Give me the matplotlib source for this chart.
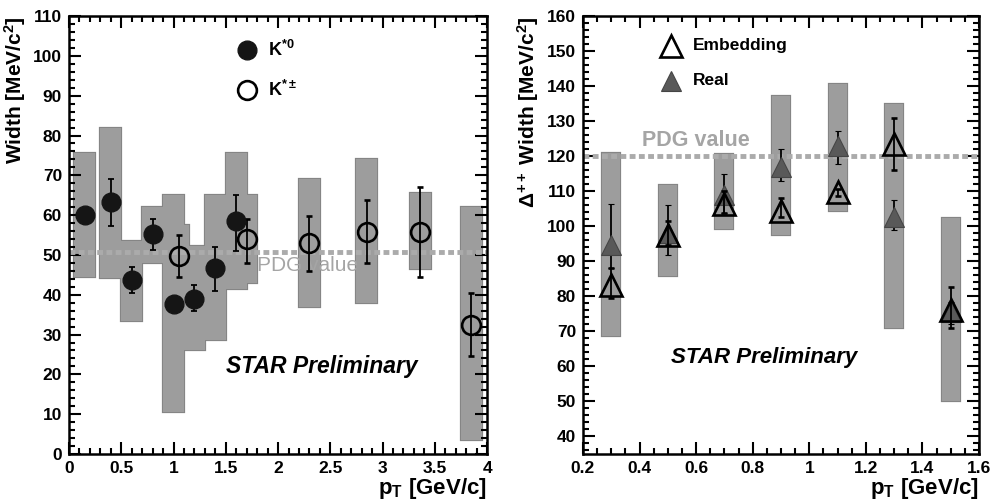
import numpy as np
import matplotlib
matplotlib.use("Agg")
import matplotlib.pyplot as plt
from matplotlib.ticker import MultipleLocator, FormatStrFormatter

plt.rcParams['font.family'] = ['Liberation Sans', 'DejaVu Sans']
plt.rcParams['font.weight'] = 'bold'
plt.rcParams['mathtext.fontset'] = 'custom'
plt.rcParams['mathtext.rm'] = 'Liberation Sans:bold'
plt.rcParams['mathtext.bf'] = 'Liberation Sans:bold'
plt.rcParams['mathtext.it'] = 'Liberation Sans:bold:italic'

# ---- left panel: K* widths ----
k0_pt = [0.15, 0.40, 0.60, 0.80, 1.00, 1.20, 1.40, 1.60]
k0_w = [60.0, 63.2, 43.7, 55.3, 37.6, 39.0, 46.6, 58.5]
k0_err_lo = [0.0, 6.0, 3.2, 4.0, 0.0, 3.0, 5.6, 7.5]
k0_err_hi = [0.0, 5.8, 3.3, 3.7, 0.0, 3.5, 5.4, 6.5]
k0_sys_lo = [44.5, 44.2, 33.5, 48.0, 10.5, 26.0, 28.7, 41.5]
k0_sys_hi = [75.5, 82.0, 53.5, 62.0, 65.0, 52.3, 65.0, 75.5]

kc_pt = [1.05, 1.70, 2.30, 2.85, 3.36, 3.85]
kc_w = [49.8, 54.0, 53.0, 55.8, 55.8, 32.5]
kc_err_lo = [5.3, 6.0, 7.0, 7.8, 11.3, 8.0]
kc_err_hi = [5.2, 5.0, 6.8, 8.0, 11.2, 8.0]
kc_sys_lo = [42.0, 43.0, 37.0, 38.0, 46.5, 3.5]
kc_sys_hi = [57.5, 65.0, 69.0, 74.0, 65.5, 62.0]

k_pdg = 50.8

# ---- right panel: Delta++ widths ----
d_pt = [0.3, 0.5, 0.7, 0.9, 1.1, 1.3, 1.5]
emb_w = [83.2, 97.4, 106.5, 104.5, 109.7, 123.6, 76.0]
emb_err_lo = [3.7, 2.8, 2.8, 1.9, 1.0, 7.6, 5.0]
emb_err_hi = [5.0, 4.0, 3.5, 3.5, 1.0, 7.4, 6.6]
real_w = [94.6, 98.0, 108.8, 116.8, 123.0, 102.6, 75.5]
real_err_lo = [6.6, 6.3, 5.1, 3.8, 5.1, 3.7, 3.5]
real_err_hi = [11.9, 8.0, 6.2, 5.3, 4.3, 4.8, 3.0]
d_sys_lo = [68.7, 85.8, 99.1, 97.6, 104.5, 71.0, 50.2]
d_sys_hi = [120.8, 111.9, 120.7, 137.2, 140.6, 135.0, 102.3]

d_pdg = 120.0

bar_face = '#9d9d9d'
bar_edge = '#858585'
pdg_col = '#ababab'


def style_axes(ax, xmaj, xmin, ymaj, ymin):
    ax.xaxis.set_major_locator(MultipleLocator(xmaj))
    ax.xaxis.set_minor_locator(MultipleLocator(xmin))
    ax.yaxis.set_major_locator(MultipleLocator(ymaj))
    ax.yaxis.set_minor_locator(MultipleLocator(ymin))
    ax.xaxis.set_major_formatter(FormatStrFormatter('%g'))
    ax.yaxis.set_major_formatter(FormatStrFormatter('%g'))
    ax.tick_params(which='both', direction='in', top=True, right=True,
                   labelsize=12.5, width=1.5)
    ax.tick_params(which='major', length=8.5, pad=5)
    ax.tick_params(which='minor', length=4.5)
    for s in ax.spines.values():
        s.set_linewidth(1.8)


def sys_boxes(ax, x, lo, hi, w):
    lo = np.array(lo)
    hi = np.array(hi)
    # outline underneath, fill on top, so overlaps merge into one shape
    ax.bar(x, hi - lo, bottom=lo, width=w, color=bar_face,
           edgecolor=bar_edge, linewidth=1.6, zorder=1)
    ax.bar(x, hi - lo, bottom=lo, width=w, color=bar_face,
           edgecolor='none', linewidth=0, zorder=1.1)


fig = plt.figure(figsize=(9.92, 5.03), dpi=100)
ax1 = fig.add_axes([0.0696, 0.0975, 0.4214, 0.8705])
ax2 = fig.add_axes([0.5877, 0.0975, 0.3992, 0.8705])

# left
sys_boxes(ax1, k0_pt + kc_pt, k0_sys_lo + kc_sys_lo, k0_sys_hi + kc_sys_hi, 0.2)
ax1.axhline(k_pdg, color=pdg_col, lw=3.5, ls=(0, (1.2, 0.7)), zorder=2)
ax1.text(1.8, k_pdg - 1.0, 'PDG value', color='#a5a5a5', fontsize=15,
         fontweight='normal', ha='left', va='top', zorder=2)
ax1.errorbar(k0_pt, k0_w, yerr=[k0_err_lo, k0_err_hi], fmt='o', ms=13.5,
             mfc='#151515', mec='#151515', ecolor='black', elinewidth=1.3,
             capsize=2.5, capthick=1.3, zorder=4)
ax1.errorbar(kc_pt, kc_w, yerr=[kc_err_lo, kc_err_hi], fmt='o', ms=13.5,
             mfc='none', mec='black', mew=1.9, ecolor='black', elinewidth=1.3,
             capsize=2.5, capthick=1.3, zorder=4)
ax1.plot([1.7], [101.5], 'o', ms=13.5, mfc='#151515', mec='#151515')
ax1.plot([1.7], [91.5], 'o', ms=13.5, mfc='none', mec='black', mew=1.9)
ax1.text(1.9, 101.5, r'K$^{*0}$', fontsize=13, va='center')
ax1.text(1.9, 91.5, r'K$^{*\pm}$', fontsize=13, va='center')
ax1.text(1.5, 22, 'STAR Preliminary', fontsize=16.5, style='italic',
         fontweight='bold', va='center')
ax1.set_xlim(0, 4)
ax1.set_ylim(0, 110)
style_axes(ax1, 0.5, 0.1, 10, 2)
ax1.set_ylabel(r'Width [MeV/c$^2$]', fontsize=15, fontweight='bold',
               loc='top', labelpad=4)
ax1.set_xlabel(r'p$_\mathregular{T}$ [GeV/c]', fontsize=16,
               fontweight='bold', loc='right', labelpad=0)

# right
sys_boxes(ax2, d_pt, d_sys_lo, d_sys_hi, 0.064)
ax2.axhline(d_pdg, color=pdg_col, lw=3.5, ls=(0, (1.2, 0.7)), zorder=2)
ax2.text(0.41, d_pdg + 1.5, 'PDG value', color='#a5a5a5', fontsize=15.5,
         fontweight='bold', ha='left', va='bottom', zorder=2)
ax2.errorbar(d_pt, real_w, yerr=[real_err_lo, real_err_hi], fmt='^', ms=15,
             mfc='#595959', mec='#454545', mew=0.8, ecolor='black',
             elinewidth=1.3, capsize=2.5, capthick=1.3, zorder=4)
ax2.errorbar(d_pt, emb_w, yerr=[emb_err_lo, emb_err_hi], fmt='^', ms=16,
             mfc='none', mec='black', mew=1.9, ecolor='black', elinewidth=1.3,
             capsize=2.5, capthick=1.3, zorder=5)
ax2.plot([0.51], [151.5], '^', ms=16, mfc='none', mec='black', mew=1.9)
ax2.plot([0.51], [141.5], '^', ms=15, mfc='#595959', mec='#454545', mew=0.8)
ax2.text(0.59, 151.5, 'Embedding', fontsize=12.5, va='center')
ax2.text(0.59, 141.5, 'Real', fontsize=12.5, va='center')
ax2.text(0.51, 62.5, 'STAR Preliminary', fontsize=16, style='italic',
         fontweight='bold', va='center')
ax2.set_xlim(0.2, 1.6)
ax2.set_ylim(35, 160)
style_axes(ax2, 0.2, 0.05, 10, 2)
ax2.set_ylabel(r'$\Delta^{++}$ Width [MeV/c$^2$]', fontsize=15,
               fontweight='bold', loc='top', labelpad=4)
ax2.set_xlabel(r'p$_\mathregular{T}$ [GeV/c]', fontsize=16,
               fontweight='bold', loc='right', labelpad=0)

fig.savefig('out.png', dpi=100)
